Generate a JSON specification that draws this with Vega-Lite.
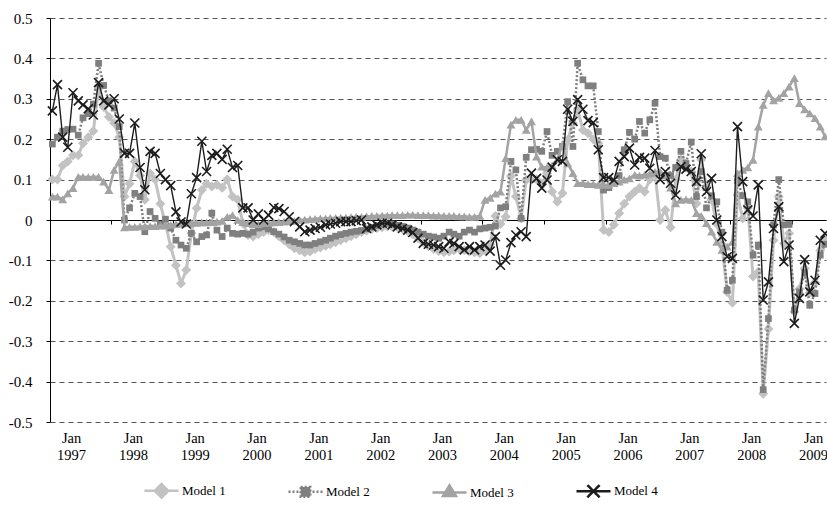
{
  "$schema": "https://vega.github.io/schema/vega-lite/v6.json",
  "width": 776,
  "height": 404,
  "autosize": {"type": "none"},
  "padding": {"left": 50, "top": 18, "right": 1, "bottom": 89},
  "background": "white",
  "config": {"view": {"stroke": null}, "font": "Liberation Serif"},
  "data": {"values": [
    {"d":"1996-09-01","Model 1":0.10,"Model 2":0.188,"Model 3":0.058,"Model 4":0.27},
    {"d":"1996-10-01","Model 1":0.10,"Model 2":0.205,"Model 3":0.058,"Model 4":0.335},
    {"d":"1996-11-01","Model 1":0.135,"Model 2":0.22,"Model 3":0.051,"Model 4":0.205},
    {"d":"1996-12-01","Model 1":0.145,"Model 2":0.224,"Model 3":0.066,"Model 4":0.18},
    {"d":"1997-01-01","Model 1":0.16,"Model 2":0.225,"Model 3":0.079,"Model 4":0.315},
    {"d":"1997-02-01","Model 1":0.16,"Model 2":0.21,"Model 3":0.107,"Model 4":0.295},
    {"d":"1997-03-01","Model 1":0.19,"Model 2":0.253,"Model 3":0.107,"Model 4":0.285},
    {"d":"1997-04-01","Model 1":0.205,"Model 2":0.263,"Model 3":0.106,"Model 4":0.275},
    {"d":"1997-05-01","Model 1":0.22,"Model 2":0.287,"Model 3":0.107,"Model 4":0.26},
    {"d":"1997-06-01","Model 1":0.325,"Model 2":0.388,"Model 3":0.107,"Model 4":0.34},
    {"d":"1997-07-01","Model 1":0.28,"Model 2":0.333,"Model 3":0.095,"Model 4":0.295},
    {"d":"1997-08-01","Model 1":0.255,"Model 2":0.295,"Model 3":0.074,"Model 4":0.285},
    {"d":"1997-09-01","Model 1":0.24,"Model 2":0.277,"Model 3":0.124,"Model 4":0.30},
    {"d":"1997-10-01","Model 1":0.205,"Model 2":0.231,"Model 3":0.145,"Model 4":0.25},
    {"d":"1997-11-01","Model 1":0.058,"Model 2":0.0,"Model 3":-0.018,"Model 4":0.165},
    {"d":"1997-12-01","Model 1":0.09,"Model 2":0.03,"Model 3":-0.017,"Model 4":0.165},
    {"d":"1998-01-01","Model 1":0.145,"Model 2":0.066,"Model 3":-0.017,"Model 4":0.24},
    {"d":"1998-02-01","Model 1":0.11,"Model 2":0.058,"Model 3":-0.016,"Model 4":0.13},
    {"d":"1998-03-01","Model 1":0.05,"Model 2":-0.029,"Model 3":-0.016,"Model 4":0.075},
    {"d":"1998-04-01","Model 1":0.115,"Model 2":0.021,"Model 3":-0.015,"Model 4":0.17},
    {"d":"1998-05-01","Model 1":0.10,"Model 2":0.004,"Model 3":-0.015,"Model 4":0.165},
    {"d":"1998-06-01","Model 1":0.04,"Model 2":-0.01,"Model 3":-0.014,"Model 4":0.115},
    {"d":"1998-07-01","Model 1":-0.01,"Model 2":0.002,"Model 3":-0.013,"Model 4":0.10},
    {"d":"1998-08-01","Model 1":-0.066,"Model 2":-0.02,"Model 3":-0.012,"Model 4":0.085},
    {"d":"1998-09-01","Model 1":-0.112,"Model 2":-0.05,"Model 3":-0.01,"Model 4":0.02},
    {"d":"1998-10-01","Model 1":-0.157,"Model 2":-0.062,"Model 3":-0.009,"Model 4":-0.005},
    {"d":"1998-11-01","Model 1":-0.124,"Model 2":-0.07,"Model 3":-0.008,"Model 4":-0.01},
    {"d":"1998-12-01","Model 1":-0.033,"Model 2":-0.033,"Model 3":-0.008,"Model 4":0.065},
    {"d":"1999-01-01","Model 1":0.029,"Model 2":-0.054,"Model 3":-0.007,"Model 4":0.105},
    {"d":"1999-02-01","Model 1":0.074,"Model 2":-0.041,"Model 3":-0.006,"Model 4":0.195},
    {"d":"1999-03-01","Model 1":0.09,"Model 2":-0.037,"Model 3":-0.006,"Model 4":0.12},
    {"d":"1999-04-01","Model 1":0.083,"Model 2":0.017,"Model 3":-0.005,"Model 4":0.16},
    {"d":"1999-05-01","Model 1":0.087,"Model 2":-0.025,"Model 3":-0.004,"Model 4":0.165},
    {"d":"1999-06-01","Model 1":0.08,"Model 2":-0.041,"Model 3":-0.002,"Model 4":0.15},
    {"d":"1999-07-01","Model 1":0.1,"Model 2":-0.02,"Model 3":0.008,"Model 4":0.175},
    {"d":"1999-08-01","Model 1":0.058,"Model 2":-0.033,"Model 3":0.012,"Model 4":0.13},
    {"d":"1999-09-01","Model 1":0.05,"Model 2":-0.035,"Model 3":0.0,"Model 4":0.135},
    {"d":"1999-10-01","Model 1":-0.008,"Model 2":-0.033,"Model 3":-0.005,"Model 4":0.03},
    {"d":"1999-11-01","Model 1":-0.037,"Model 2":-0.035,"Model 3":-0.008,"Model 4":0.03},
    {"d":"1999-12-01","Model 1":-0.041,"Model 2":-0.03,"Model 3":-0.01,"Model 4":0.0},
    {"d":"2000-01-01","Model 1":-0.035,"Model 2":-0.02,"Model 3":-0.01,"Model 4":0.015},
    {"d":"2000-02-01","Model 1":-0.03,"Model 2":-0.017,"Model 3":-0.008,"Model 4":0.0},
    {"d":"2000-03-01","Model 1":-0.025,"Model 2":-0.022,"Model 3":-0.007,"Model 4":0.012},
    {"d":"2000-04-01","Model 1":-0.03,"Model 2":-0.029,"Model 3":-0.006,"Model 4":0.031},
    {"d":"2000-05-01","Model 1":-0.04,"Model 2":-0.035,"Model 3":-0.005,"Model 4":0.028},
    {"d":"2000-06-01","Model 1":-0.05,"Model 2":-0.042,"Model 3":-0.004,"Model 4":0.021},
    {"d":"2000-07-01","Model 1":-0.06,"Model 2":-0.05,"Model 3":-0.003,"Model 4":0.008},
    {"d":"2000-08-01","Model 1":-0.07,"Model 2":-0.054,"Model 3":-0.002,"Model 4":-0.004},
    {"d":"2000-09-01","Model 1":-0.075,"Model 2":-0.058,"Model 3":0.0,"Model 4":-0.017},
    {"d":"2000-10-01","Model 1":-0.08,"Model 2":-0.062,"Model 3":0.001,"Model 4":-0.029},
    {"d":"2000-11-01","Model 1":-0.078,"Model 2":-0.062,"Model 3":0.002,"Model 4":-0.025},
    {"d":"2000-12-01","Model 1":-0.072,"Model 2":-0.058,"Model 3":0.003,"Model 4":-0.021},
    {"d":"2001-01-01","Model 1":-0.068,"Model 2":-0.054,"Model 3":0.004,"Model 4":-0.018},
    {"d":"2001-02-01","Model 1":-0.064,"Model 2":-0.05,"Model 3":0.004,"Model 4":-0.012},
    {"d":"2001-03-01","Model 1":-0.06,"Model 2":-0.045,"Model 3":0.005,"Model 4":-0.01},
    {"d":"2001-04-01","Model 1":-0.055,"Model 2":-0.04,"Model 3":0.005,"Model 4":-0.008},
    {"d":"2001-05-01","Model 1":-0.05,"Model 2":-0.036,"Model 3":0.006,"Model 4":-0.004},
    {"d":"2001-06-01","Model 1":-0.045,"Model 2":-0.033,"Model 3":0.006,"Model 4":-0.004},
    {"d":"2001-07-01","Model 1":-0.04,"Model 2":-0.03,"Model 3":0.007,"Model 4":-0.004},
    {"d":"2001-08-01","Model 1":-0.035,"Model 2":-0.028,"Model 3":0.008,"Model 4":-0.002},
    {"d":"2001-09-01","Model 1":-0.03,"Model 2":-0.026,"Model 3":0.008,"Model 4":0.0},
    {"d":"2001-10-01","Model 1":-0.026,"Model 2":-0.022,"Model 3":0.009,"Model 4":-0.021},
    {"d":"2001-11-01","Model 1":-0.022,"Model 2":-0.018,"Model 3":0.01,"Model 4":-0.017},
    {"d":"2001-12-01","Model 1":-0.02,"Model 2":-0.014,"Model 3":0.01,"Model 4":-0.012},
    {"d":"2002-01-01","Model 1":-0.018,"Model 2":-0.01,"Model 3":0.011,"Model 4":-0.008},
    {"d":"2002-02-01","Model 1":-0.016,"Model 2":-0.008,"Model 3":0.011,"Model 4":-0.008},
    {"d":"2002-03-01","Model 1":-0.017,"Model 2":-0.01,"Model 3":0.012,"Model 4":-0.012},
    {"d":"2002-04-01","Model 1":-0.018,"Model 2":-0.013,"Model 3":0.012,"Model 4":-0.017},
    {"d":"2002-05-01","Model 1":-0.022,"Model 2":-0.016,"Model 3":0.012,"Model 4":-0.021},
    {"d":"2002-06-01","Model 1":-0.028,"Model 2":-0.02,"Model 3":0.013,"Model 4":-0.025},
    {"d":"2002-07-01","Model 1":-0.035,"Model 2":-0.025,"Model 3":0.013,"Model 4":-0.031},
    {"d":"2002-08-01","Model 1":-0.045,"Model 2":-0.03,"Model 3":0.012,"Model 4":-0.045},
    {"d":"2002-09-01","Model 1":-0.055,"Model 2":-0.035,"Model 3":0.012,"Model 4":-0.058},
    {"d":"2002-10-01","Model 1":-0.065,"Model 2":-0.04,"Model 3":0.012,"Model 4":-0.06},
    {"d":"2002-11-01","Model 1":-0.072,"Model 2":-0.042,"Model 3":0.011,"Model 4":-0.062},
    {"d":"2002-12-01","Model 1":-0.077,"Model 2":-0.045,"Model 3":0.011,"Model 4":-0.066},
    {"d":"2003-01-01","Model 1":-0.08,"Model 2":-0.04,"Model 3":0.01,"Model 4":-0.07},
    {"d":"2003-02-01","Model 1":-0.078,"Model 2":-0.03,"Model 3":0.01,"Model 4":-0.054},
    {"d":"2003-03-01","Model 1":-0.075,"Model 2":-0.035,"Model 3":0.01,"Model 4":-0.058},
    {"d":"2003-04-01","Model 1":-0.072,"Model 2":-0.04,"Model 3":0.009,"Model 4":-0.066},
    {"d":"2003-05-01","Model 1":-0.075,"Model 2":-0.03,"Model 3":0.009,"Model 4":-0.074},
    {"d":"2003-06-01","Model 1":-0.078,"Model 2":-0.025,"Model 3":0.008,"Model 4":-0.066},
    {"d":"2003-07-01","Model 1":-0.08,"Model 2":-0.03,"Model 3":0.008,"Model 4":-0.074},
    {"d":"2003-08-01","Model 1":-0.082,"Model 2":-0.022,"Model 3":0.01,"Model 4":-0.066},
    {"d":"2003-09-01","Model 1":-0.075,"Model 2":-0.02,"Model 3":0.05,"Model 4":-0.062},
    {"d":"2003-10-01","Model 1":-0.06,"Model 2":-0.018,"Model 3":0.055,"Model 4":-0.077},
    {"d":"2003-11-01","Model 1":0.01,"Model 2":-0.015,"Model 3":0.065,"Model 4":-0.041},
    {"d":"2003-12-01","Model 1":-0.01,"Model 2":0.03,"Model 3":0.07,"Model 4":-0.112},
    {"d":"2004-01-01","Model 1":0.008,"Model 2":0.033,"Model 3":0.153,"Model 4":-0.099},
    {"d":"2004-02-01","Model 1":0.109,"Model 2":0.145,"Model 3":0.236,"Model 4":-0.056},
    {"d":"2004-03-01","Model 1":0.058,"Model 2":0.124,"Model 3":0.248,"Model 4":-0.037},
    {"d":"2004-04-01","Model 1":0.004,"Model 2":0.004,"Model 3":0.248,"Model 4":-0.029},
    {"d":"2004-05-01","Model 1":0.099,"Model 2":0.155,"Model 3":0.223,"Model 4":-0.041},
    {"d":"2004-06-01","Model 1":0.1,"Model 2":0.174,"Model 3":0.244,"Model 4":0.116},
    {"d":"2004-07-01","Model 1":0.1,"Model 2":0.175,"Model 3":0.157,"Model 4":0.103},
    {"d":"2004-08-01","Model 1":0.09,"Model 2":0.17,"Model 3":0.132,"Model 4":0.079},
    {"d":"2004-09-01","Model 1":0.116,"Model 2":0.219,"Model 3":0.13,"Model 4":0.099},
    {"d":"2004-10-01","Model 1":0.07,"Model 2":0.16,"Model 3":0.135,"Model 4":0.131},
    {"d":"2004-11-01","Model 1":0.045,"Model 2":0.17,"Model 3":0.15,"Model 4":0.149},
    {"d":"2004-12-01","Model 1":0.066,"Model 2":0.182,"Model 3":0.186,"Model 4":0.145},
    {"d":"2005-01-01","Model 1":0.198,"Model 2":0.293,"Model 3":0.14,"Model 4":0.274},
    {"d":"2005-02-01","Model 1":0.24,"Model 2":0.182,"Model 3":0.116,"Model 4":0.244},
    {"d":"2005-03-01","Model 1":0.273,"Model 2":0.388,"Model 3":0.091,"Model 4":0.298},
    {"d":"2005-04-01","Model 1":0.223,"Model 2":0.347,"Model 3":0.091,"Model 4":0.274},
    {"d":"2005-05-01","Model 1":0.215,"Model 2":0.332,"Model 3":0.089,"Model 4":0.246},
    {"d":"2005-06-01","Model 1":0.2,"Model 2":0.332,"Model 3":0.089,"Model 4":0.241},
    {"d":"2005-07-01","Model 1":0.19,"Model 2":0.219,"Model 3":0.087,"Model 4":0.174},
    {"d":"2005-08-01","Model 1":-0.025,"Model 2":0.074,"Model 3":0.087,"Model 4":0.105},
    {"d":"2005-09-01","Model 1":-0.03,"Model 2":0.08,"Model 3":0.087,"Model 4":0.105},
    {"d":"2005-10-01","Model 1":-0.012,"Model 2":0.09,"Model 3":0.091,"Model 4":0.099},
    {"d":"2005-11-01","Model 1":0.017,"Model 2":0.11,"Model 3":0.095,"Model 4":0.145},
    {"d":"2005-12-01","Model 1":0.04,"Model 2":0.174,"Model 3":0.1,"Model 4":0.157},
    {"d":"2006-01-01","Model 1":0.058,"Model 2":0.217,"Model 3":0.103,"Model 4":0.178},
    {"d":"2006-02-01","Model 1":0.07,"Model 2":0.2,"Model 3":0.112,"Model 4":0.136},
    {"d":"2006-03-01","Model 1":0.079,"Model 2":0.244,"Model 3":0.11,"Model 4":0.155},
    {"d":"2006-04-01","Model 1":0.07,"Model 2":0.215,"Model 3":0.112,"Model 4":0.153},
    {"d":"2006-05-01","Model 1":0.1,"Model 2":0.248,"Model 3":0.115,"Model 4":0.128},
    {"d":"2006-06-01","Model 1":0.116,"Model 2":0.289,"Model 3":0.118,"Model 4":0.172},
    {"d":"2006-07-01","Model 1":0.0,"Model 2":0.157,"Model 3":0.12,"Model 4":0.10},
    {"d":"2006-08-01","Model 1":0.025,"Model 2":0.153,"Model 3":0.11,"Model 4":0.12},
    {"d":"2006-09-01","Model 1":-0.018,"Model 2":0.11,"Model 3":0.08,"Model 4":0.091},
    {"d":"2006-10-01","Model 1":0.1,"Model 2":0.13,"Model 3":0.041,"Model 4":0.062},
    {"d":"2006-11-01","Model 1":0.15,"Model 2":0.17,"Model 3":0.05,"Model 4":0.132},
    {"d":"2006-12-01","Model 1":0.13,"Model 2":0.14,"Model 3":0.051,"Model 4":0.126},
    {"d":"2007-01-01","Model 1":0.12,"Model 2":0.193,"Model 3":0.05,"Model 4":0.12},
    {"d":"2007-02-01","Model 1":0.041,"Model 2":0.058,"Model 3":0.017,"Model 4":0.095},
    {"d":"2007-03-01","Model 1":0.149,"Model 2":0.12,"Model 3":0.01,"Model 4":0.164},
    {"d":"2007-04-01","Model 1":0.083,"Model 2":0.03,"Model 3":-0.008,"Model 4":0.07},
    {"d":"2007-05-01","Model 1":0.05,"Model 2":0.06,"Model 3":-0.029,"Model 4":0.103},
    {"d":"2007-06-01","Model 1":-0.01,"Model 2":0.045,"Model 3":-0.054,"Model 4":0.0},
    {"d":"2007-07-01","Model 1":-0.06,"Model 2":-0.03,"Model 3":-0.074,"Model 4":-0.041},
    {"d":"2007-08-01","Model 1":-0.178,"Model 2":-0.174,"Model 3":-0.066,"Model 4":-0.091},
    {"d":"2007-09-01","Model 1":-0.205,"Model 2":-0.149,"Model 3":-0.054,"Model 4":-0.095},
    {"d":"2007-10-01","Model 1":0.062,"Model 2":0.097,"Model 3":0.116,"Model 4":0.231},
    {"d":"2007-11-01","Model 1":0.004,"Model 2":0.06,"Model 3":0.124,"Model 4":0.095},
    {"d":"2007-12-01","Model 1":0.03,"Model 2":0.045,"Model 3":0.13,"Model 4":0.025},
    {"d":"2008-01-01","Model 1":-0.14,"Model 2":-0.087,"Model 3":0.149,"Model 4":0.01},
    {"d":"2008-02-01","Model 1":-0.128,"Model 2":-0.062,"Model 3":0.231,"Model 4":0.087},
    {"d":"2008-03-01","Model 1":-0.43,"Model 2":-0.42,"Model 3":0.285,"Model 4":-0.198},
    {"d":"2008-04-01","Model 1":-0.27,"Model 2":-0.244,"Model 3":0.314,"Model 4":-0.153},
    {"d":"2008-05-01","Model 1":-0.05,"Model 2":-0.012,"Model 3":0.296,"Model 4":-0.021},
    {"d":"2008-06-01","Model 1":0.058,"Model 2":0.1,"Model 3":0.302,"Model 4":0.033},
    {"d":"2008-07-01","Model 1":-0.058,"Model 2":-0.012,"Model 3":0.314,"Model 4":-0.103},
    {"d":"2008-08-01","Model 1":-0.033,"Model 2":-0.011,"Model 3":0.33,"Model 4":-0.062},
    {"d":"2008-09-01","Model 1":-0.227,"Model 2":-0.223,"Model 3":0.351,"Model 4":-0.256},
    {"d":"2008-10-01","Model 1":-0.17,"Model 2":-0.178,"Model 3":0.289,"Model 4":-0.194},
    {"d":"2008-11-01","Model 1":-0.12,"Model 2":-0.13,"Model 3":0.274,"Model 4":-0.098},
    {"d":"2008-12-01","Model 1":-0.18,"Model 2":-0.211,"Model 3":0.264,"Model 4":-0.178},
    {"d":"2009-01-01","Model 1":-0.155,"Model 2":-0.182,"Model 3":0.252,"Model 4":-0.149},
    {"d":"2009-02-01","Model 1":-0.075,"Model 2":-0.087,"Model 3":0.231,"Model 4":-0.05},
    {"d":"2009-03-01","Model 1":-0.045,"Model 2":-0.06,"Model 3":0.207,"Model 4":-0.033}
  ]},
  "transform": [{"fold": ["Model 1", "Model 2", "Model 3", "Model 4"], "as": ["model", "value"]}],
  "encoding": {
    "x": {
      "field": "d", "type": "temporal",
      "scale": {"type": "utc", "domain": [{"year": 1996, "month": 8, "date": 18, "utc": true}, {"year": 2009, "month": 3, "date": 7, "utc": true}]},
      "axis": {
        "title": null, "orient": "bottom", "offset": -202,
        "values": [
          {"year": 1997, "month": 1, "date": 1, "utc": true}, {"year": 1998, "month": 1, "date": 1, "utc": true},
          {"year": 1999, "month": 1, "date": 1, "utc": true}, {"year": 2000, "month": 1, "date": 1, "utc": true},
          {"year": 2001, "month": 1, "date": 1, "utc": true}, {"year": 2002, "month": 1, "date": 1, "utc": true},
          {"year": 2003, "month": 1, "date": 1, "utc": true}, {"year": 2004, "month": 1, "date": 1, "utc": true},
          {"year": 2005, "month": 1, "date": 1, "utc": true}, {"year": 2006, "month": 1, "date": 1, "utc": true},
          {"year": 2007, "month": 1, "date": 1, "utc": true}, {"year": 2008, "month": 1, "date": 1, "utc": true},
          {"year": 2009, "month": 1, "date": 1, "utc": true}
        ],
        "domain": true, "domainColor": "#000000", "domainWidth": 1,
        "ticks": true, "tickColor": "#000000", "tickSize": 4, "tickWidth": 1,
        "tickOffset": -23.4, "labelOffset": 21.5, "labelPadding": 207,
        "labelExpr": "['Jan', utcFormat(datum.value, '%Y')]",
        "labelFont": "Liberation Serif", "labelFontSize": 14.5, "labelLineHeight": 17, "labelColor": "#000000",
        "labelOverlap": false, "labelFlush": false, "grid": false
      }
    },
    "y": {
      "field": "value", "type": "quantitative",
      "scale": {"domain": [-0.5, 0.5], "nice": false, "zero": false},
      "axis": {
        "title": null,
        "values": [0.5, 0.4, 0.3, 0.2, 0.1, 0, -0.1, -0.2, -0.3, -0.4, -0.5],
        "domain": true, "domainColor": "#000000", "domainWidth": 1,
        "ticks": true, "tickColor": "#000000", "tickSize": 4,
        "labelPadding": 14, "labelFont": "Liberation Serif", "labelFontSize": 15, "labelColor": "#000000",
        "labelExpr": "datum.value == 0 ? '0' : (datum.value < 0 ? '-' : '') + format(abs(datum.value), '.1f')",
        "labelOverlap": false, "labelFlush": false,
        "grid": true, "gridColor": "#555555", "gridDash": [5, 4], "gridWidth": 1
      }
    },
    "color": {
      "field": "model", "type": "nominal",
      "scale": {"domain": ["Model 1", "Model 2", "Model 3", "Model 4"], "range": ["#c2c2c2", "#7f7f7f", "#a3a3a3", "#1c1c1c"]},
      "legend": {
        "title": null, "orient": "none", "legendX": 93, "legendY": 454, "direction": "horizontal",
        "symbolSize": 1156, "symbolStrokeWidth": 2.5, "symbolOpacity": 1, "padding": 0, "labelOffset": 2, "columnPadding": 57,
        "labelFont": "Liberation Serif", "labelFontSize": 13, "labelColor": "#000000"
      }
    }
  },
  "layer": [
    {"transform": [{"filter": "datum.model === 'Model 1'"}], "mark": {"type": "line", "strokeWidth": 3},
     "encoding": {"strokeDash": {"field": "model", "type": "nominal", "scale": {"domain": ["Model 1", "Model 2", "Model 3", "Model 4"], "range": [[1, 0], [2, 2], [1, 0], [1, 0]]}}}},
    {"transform": [{"filter": "datum.model === 'Model 1'"}], "mark": {"type": "point", "filled": true, "opacity": 1, "size": 100, "shape": "diamond"}},
    {"transform": [{"filter": "datum.model === 'Model 2'"}], "mark": {"type": "line", "strokeWidth": 2.5},
     "encoding": {"strokeDash": {"field": "model", "type": "nominal"}}},
    {"transform": [{"filter": "datum.model === 'Model 2'"}], "mark": {"type": "point", "filled": true, "opacity": 1, "size": 45, "shape": "square"}},
    {"transform": [{"filter": "datum.model === 'Model 3'"}], "mark": {"type": "line", "strokeWidth": 2.5},
     "encoding": {"strokeDash": {"field": "model", "type": "nominal"}}},
    {"transform": [{"filter": "datum.model === 'Model 3'"}], "mark": {"type": "point", "filled": true, "opacity": 1, "size": 80, "shape": "triangle-up"}},
    {"transform": [{"filter": "datum.model === 'Model 4'"}], "mark": {"type": "line", "strokeWidth": 1.4},
     "encoding": {"strokeDash": {"field": "model", "type": "nominal"}}},
    {"transform": [{"filter": "datum.model === 'Model 4'"}], "mark": {"type": "point", "filled": false, "opacity": 1, "size": 81, "strokeWidth": 1.6, "shape": "M-1,-1L1,1M-1,1L1,-1"}},
    {"transform": [{"filter": "datum.model === 'legend only'"}], "mark": {"type": "point", "filled": true, "opacity": 1},
     "encoding": {"shape": {"field": "model", "type": "nominal", "scale": {"domain": ["Model 1", "Model 2", "Model 3", "Model 4"], "range": ["M-1,0H1M0,-0.4L0.4,0L0,0.4L-0.4,0Z", "M-1,0H1M-0.28,-0.28H0.28V0.28H-0.28Z", "M-1,0H1M0,-0.42L0.38,0.2H-0.38Z", "M-1,0H1M-0.36,-0.36L0.36,0.36M-0.36,0.36L0.36,-0.36"]}}}}
  ]
}
